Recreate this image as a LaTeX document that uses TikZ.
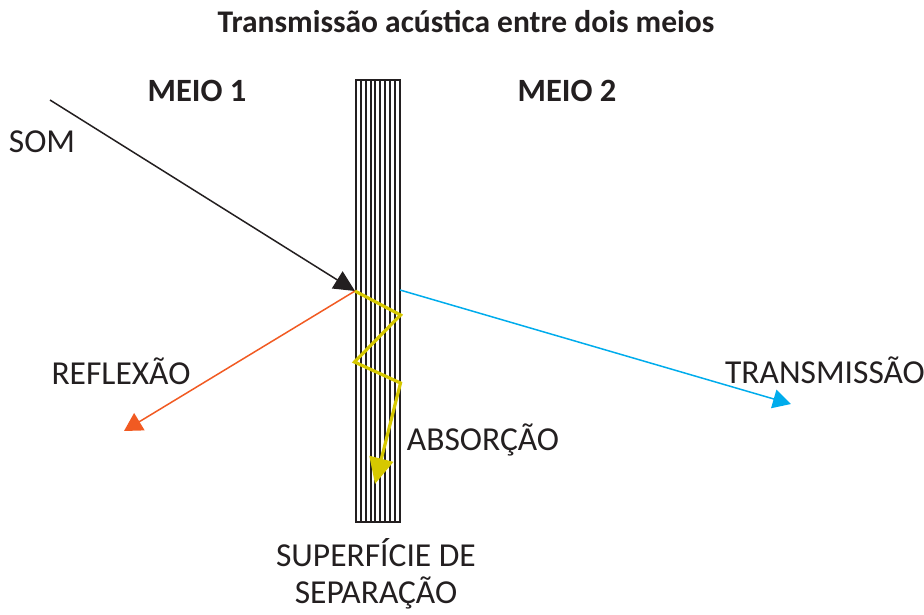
\documentclass[tikz,border=0pt]{standalone}
\usepackage{fontspec}
\setmainfont{Carlito}
\usetikzlibrary{arrows.meta}
\definecolor{reforange}{RGB}{241,90,34}
\definecolor{transblue}{RGB}{0,172,236}
\definecolor{absyellow}{RGB}{214,200,0}
\definecolor{ink}{RGB}{35,31,32}
\tikzset{
  lbl/.style={font=\fontsize{33.5}{38}\selectfont, inner sep=0pt, text=ink},
  hdr/.style={font=\fontsize{32.5}{37}\selectfont\bfseries, inner sep=0pt, text=ink},
  wallline/.style={line width=2pt, draw=ink},
  ray/.style={line width=1.5pt},
}
\begin{document}
\begin{tikzpicture}[x=1pt,y=-1pt]
\useasboundingbox (0,0) rectangle (924,614);
% title and labels
\node[hdr, font=\fontsize{31.5}{36}\selectfont\bfseries] (title) at (466,22) {Transmissão acústica entre dois meios};
\node[hdr] (meio1) at (197,91) {MEIO 1};
\node[hdr] (meio2) at (567,91) {MEIO 2};
\node[lbl] (som) at (42,142) {SOM};
\node[lbl] (refl) at (121,371) {REFLEXÃO};
\node[lbl] (trans) at (825,370) {TRANSMISSÃO};
\node[lbl] (abs) at (483,440) {ABSORÇÃO};
\node[lbl, align=center, font=\fontsize{33.5}{37}\selectfont] (sup) at (376,574) {SUPERFÍCIE DE\\SEPARAÇÃO};
% wall
\foreach \i in {0,...,9} {
  \draw[wallline] (356+4.85*\i,80) -- (356+4.85*\i,522);
}
\draw[wallline] (355,80) -- (400.6,80);
\draw[wallline] (355,522) -- (400.6,522);
% points
\coordinate (somstart) at (50,100);
\coordinate (hit) at (355,291);
\coordinate (reflend) at (124,431);
\coordinate (exit) at (400,290);
\coordinate (transend) at (791,404);
\coordinate (z1) at (400.5,315);
\coordinate (z2) at (354.5,362);
\coordinate (z3) at (400.5,383);
\coordinate (absend) at (375,484);
% rays
\draw[ray, ink, -{Triangle[length=21pt,width=20pt]}] (somstart) -- (hit);
\draw[ray, reforange, -{Triangle[length=18pt,width=20pt]}] (hit) -- (reflend);
\draw[ray, transblue, -{Triangle[length=18pt,width=19pt]}] (exit) -- (transend);
\draw[line width=3.2pt, absyellow, line join=miter, -{Triangle[length=26pt,width=24pt]}] (hit) -- (z1) -- (z2) -- (z3) -- (absend);
\end{tikzpicture}
\end{document}
